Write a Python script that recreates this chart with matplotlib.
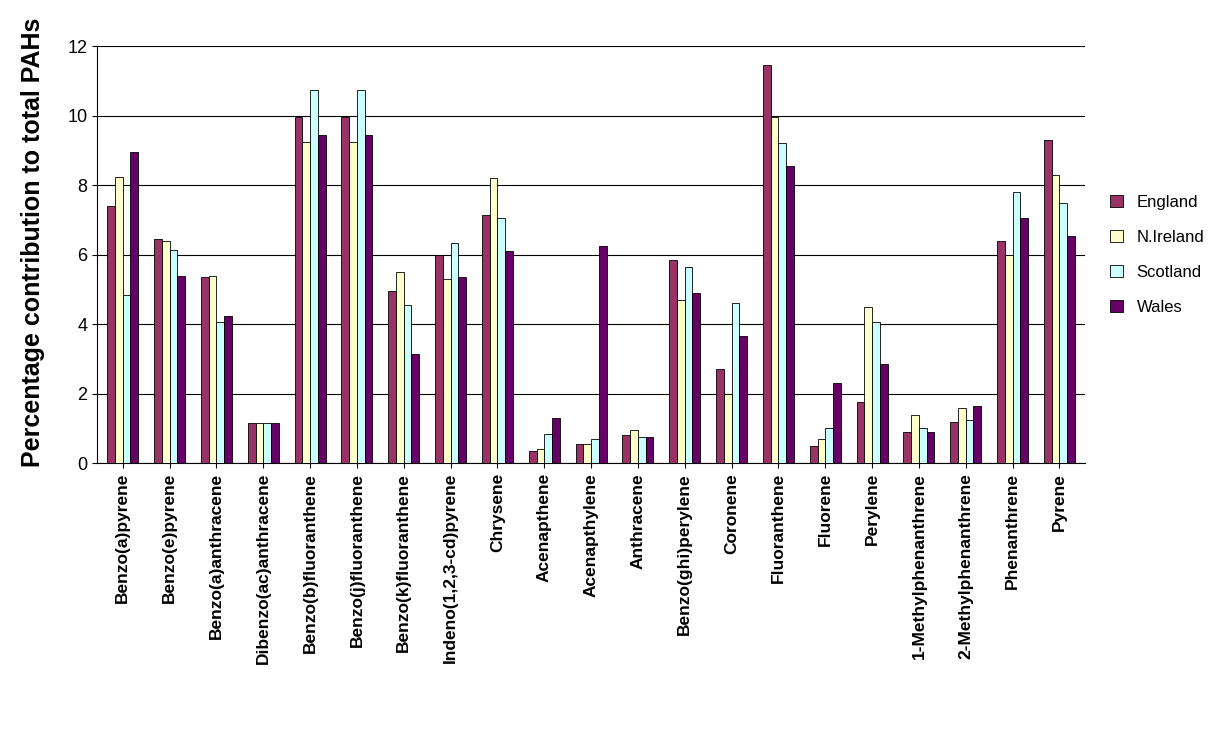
import matplotlib
matplotlib.use("Agg")
import matplotlib.pyplot as plt
import numpy as np

categories = ["Benzo(a)pyrene","Benzo(e)pyrene","Benzo(a)anthracene","Dibenzo(ac)anthracene",
 "Benzo(b)fluoranthene","Benzo(j)fluoranthene","Benzo(k)fluoranthene","Indeno(1,2,3-cd)pyrene",
 "Chrysene","Acenapthene","Acenapthylene","Anthracene","Benzo(ghi)perylene","Coronene",
 "Fluoranthene","Fluorene","Perylene","1-Methylphenanthrene","2-Methylphenanthrene",
 "Phenanthrene","Pyrene"]
england  = [7.4,6.45,5.35,1.15,9.95,9.95,4.95,6.0,7.15,0.35,0.55,0.8,5.85,2.7,11.45,0.5,1.75,0.9,1.2,6.4,9.3]
nireland = [8.25,6.4,5.4,1.15,9.25,9.25,5.5,5.3,8.2,0.4,0.55,0.95,4.7,2.0,9.95,0.7,4.5,1.4,1.6,6.0,8.3]
scotland = [4.85,6.15,4.05,1.15,10.75,10.75,4.55,6.35,7.05,0.85,0.7,0.75,5.65,4.6,9.2,1.0,4.05,1.0,1.25,7.8,7.5]
wales    = [8.95,5.4,4.25,1.15,9.45,9.45,3.15,5.35,6.1,1.3,6.25,0.75,4.9,3.65,8.55,2.3,2.85,0.9,1.65,7.05,6.55]
series = [("England",england,"#993366"),("N.Ireland",nireland,"#FFFFCC"),
          ("Scotland",scotland,"#CCFFFF"),("Wales",wales,"#660066")]

fig = plt.figure(figsize=(12.2,7.33), dpi=100)
ax = fig.add_axes([0.0795,0.368,0.81,0.569])
x = np.arange(len(categories))
w = 0.165
for i,(name,vals,col) in enumerate(series):
    ax.bar(x+(i-1.5)*w, vals, w, color=col, edgecolor="black", linewidth=0.6, label=name, zorder=3)
ax.set_xlim(-0.55, len(categories)-0.45)
ax.set_ylim(0,12)
ax.set_yticks(range(0,13,2))
ax.yaxis.grid(True, color="black", linewidth=0.8, zorder=0)
ax.set_axisbelow(True)
ax.set_xticks(x)
ax.set_xticklabels(categories, rotation=90, fontweight="bold", fontsize=12.5, family="Liberation Sans")
for t in ax.get_yticklabels():
    t.set_fontsize(13); t.set_family("Liberation Sans")
for s in ["top","right"]:
    ax.spines[s].set_visible(False)
ax.set_ylabel("Percentage contribution to total PAHs", fontsize=18, fontweight="bold", family="Liberation Sans")
ax.yaxis.set_label_coords(-0.053, 0.53)
ax.legend(loc="center left", bbox_to_anchor=(1.01,0.5), frameon=False, prop={"family":"Liberation Sans","size":12}, labelspacing=1.2, handlelength=0.8)
fig.savefig("out.png")
